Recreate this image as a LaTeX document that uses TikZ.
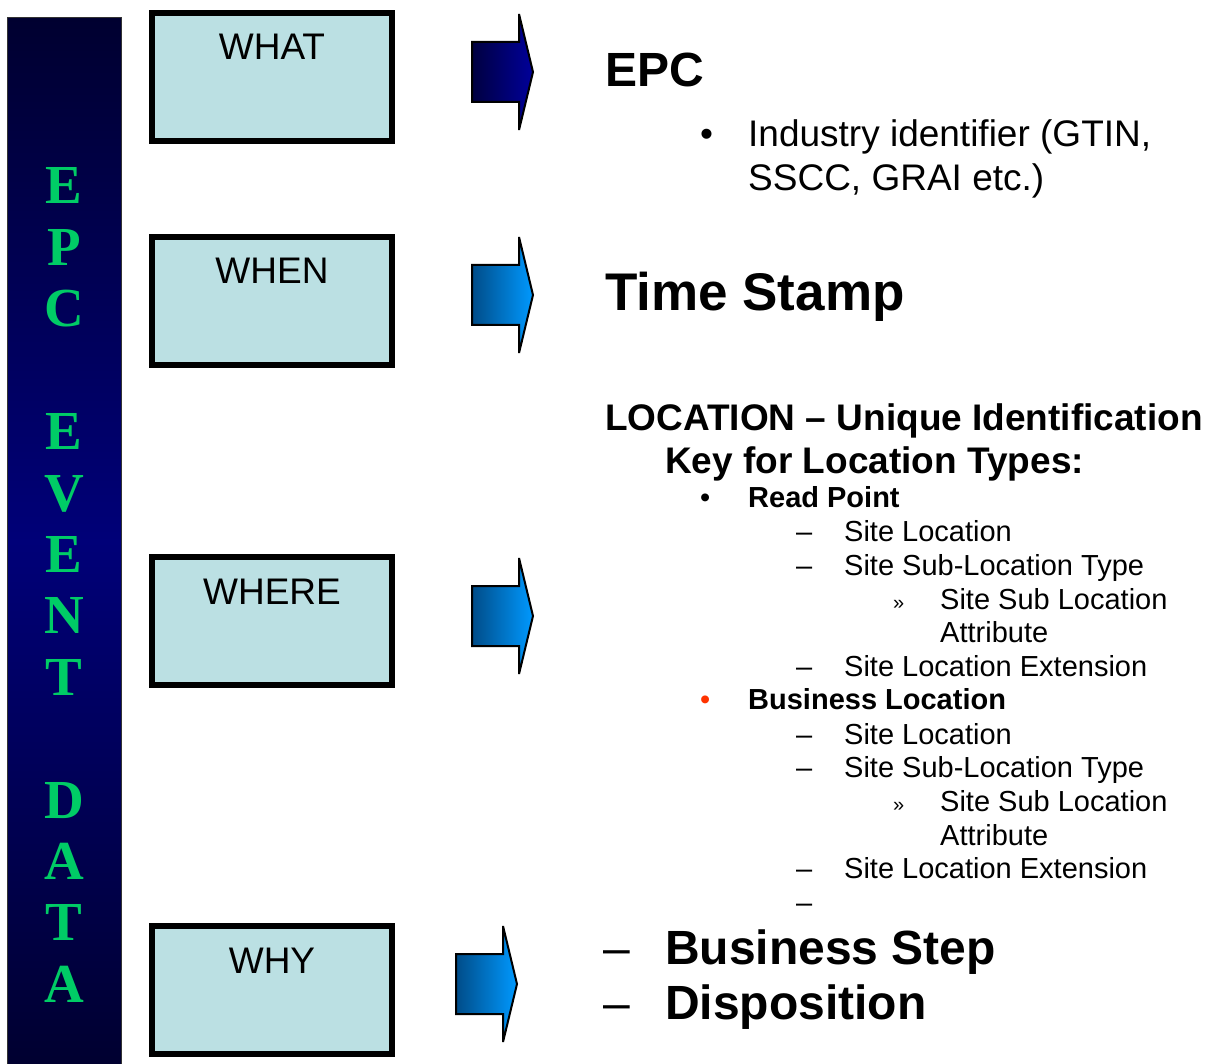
\documentclass[tikz,border=0pt]{standalone}
\usepackage{fontspec}
\setmainfont{Liberation Sans}
\newfontfamily\barfont{Liberation Serif}
\definecolor{boxfill}{HTML}{BBE0E3}
\definecolor{bargreen}{HTML}{00CC66}
\definecolor{bardark}{HTML}{000030}
\definecolor{barmid}{HTML}{000078}
\definecolor{navyL}{HTML}{000040}
\definecolor{navyR}{HTML}{00009A}
\definecolor{blueL}{HTML}{004C88}
\definecolor{blueR}{HTML}{0099FF}
\definecolor{bulletred}{HTML}{FF3300}
\newcommand\fs[1]{\fontsize{#1}{#1}\selectfont}
% block arrow: #1 = left x, #2 = centre y, #3 = shading style, #4 = tip name
\newcommand\blockarrow[4]{%
  \filldraw[arrowline,#3] (#1,{#2-30}) -- ({#1+47},{#2-30}) -- ({#1+47},{#2-58})
    -- ({#1+61},#2) -- ({#1+47},{#2+58}) -- ({#1+47},{#2+30}) -- (#1,{#2+30}) -- cycle;
  \coordinate (#4) at ({#1+61},#2);}
\begin{document}
\begin{tikzpicture}[x=1pt,y=-1pt,
  box/.style={draw=black,line width=6pt,fill=boxfill,minimum width=240pt,
    minimum height=128pt,inner sep=0pt},
  boxlabel/.style={anchor=base,inner sep=0pt,font=\fs{37}},
  barletter/.style={anchor=base,inner sep=0pt,text=bargreen,font=\barfont\bfseries\fs{55}},
  arrowline/.style={draw=black,line width=2pt,line join=miter,miter limit=3},
  navyshade/.style={left color=navyL,right color=navyR},
  blueshade/.style={left color=blueL,right color=blueR},
  txt/.style={anchor=base west,inner sep=0pt},
  head/.style={txt,font=\bfseries\fs{37}},
  item/.style={txt,font=\fs{29}},
  bolditem/.style={txt,font=\bfseries\fs{29}}]
\useasboundingbox (0,0) rectangle (1215,1064);

% vertical title bar: dark at both ends, brighter navy in the middle
\shade[top color=bardark,bottom color=barmid] (7,18) rectangle (121,542);
\shade[top color=barmid,bottom color=bardark] (7,541) rectangle (121,1066);
\draw[black!80,line width=1pt] (7,18) rectangle (121,1066);
\foreach \l/\i in {E/0,P/1,C/2,E/4,V/5,E/6,N/7,T/8,D/10,A/11,T/12,A/13}
  \node[barletter] (bar\i) at (64,{204+61.4*\i}) {\l};

% question boxes
\node[box] (what)  at (272,77)    {};
\node[box] (when)  at (272,301)   {};
\node[box] (where) at (272,621)   {};
\node[box] (why)   at (272,989.5) {};
\node[boxlabel] (whatL)  at (272,60)  {WHAT};
\node[boxlabel] (whenL)  at (272,284) {WHEN};
\node[boxlabel] (whereL) at (272,604) {WHERE};
\node[boxlabel] (whyL)   at (272,973) {WHY};

% block arrows
\blockarrow{472}{72}{navyshade}{tipwhat}
\blockarrow{472}{295}{blueshade}{tipwhen}
\blockarrow{472}{616}{blueshade}{tipwhere}
\blockarrow{456}{984}{blueshade}{tipwhy}

% WHAT
\node[txt,font=\bfseries\fs{48}] (epc) at (605,87) {EPC};
\node[txt,font=\fs{37}] (b1) at (700,147) {•};
\node[txt,font=\fs{37}] (epc1) at (748,147) {Industry identifier (GTIN,};
\node[txt,font=\fs{37}] (epc2) at (748,191) {SSCC, GRAI etc.)};

% WHEN
\node[txt,font=\bfseries\fs{53}] (ts) at (605,311) {Time Stamp};

% WHERE
\node[head] (loc1) at (605,430) {LOCATION – Unique Identification};
\node[head] (loc2) at (665,473) {Key for Location Types:};
\node[item] (b2) at (700,507) {•};
\node[bolditem] (rp) at (748,507) {Read Point};
\node[item] (d1) at (796,541) {–};
\node[item] (rp1) at (844,541) {Site Location};
\node[item] (d2) at (796,575) {–};
\node[item] (rp2) at (844,575) {Site Sub-Location Type};
\node[txt,font=\fs{20}] (g1) at (893,609) {»};
\node[item] (rp3) at (940,609) {Site Sub Location};
\node[item] (rp4) at (940,642) {Attribute};
\node[item] (d3) at (796,676) {–};
\node[item] (rp5) at (844,676) {Site Location Extension};
\node[item,text=bulletred] (b3) at (700,709) {•};
\node[bolditem] (bl) at (748,709) {Business Location};
\node[item] (d4) at (796,744) {–};
\node[item] (bl1) at (844,744) {Site Location};
\node[item] (d5) at (796,777) {–};
\node[item] (bl2) at (844,777) {Site Sub-Location Type};
\node[txt,font=\fs{20}] (g2) at (893,811) {»};
\node[item] (bl3) at (940,811) {Site Sub Location};
\node[item] (bl4) at (940,845) {Attribute};
\node[item] (d6) at (796,878) {–};
\node[item] (bl5) at (844,878) {Site Location Extension};
\node[item] (d7) at (796,912) {–};

% WHY
\node[txt,font=\fs{48}] (d8) at (603,964) {–};
\node[txt,font=\bfseries\fs{48}] (bs) at (665,964) {Business Step};
\node[txt,font=\fs{48}] (d9) at (603,1019) {–};
\node[txt,font=\bfseries\fs{48}] (dp) at (665,1019) {Disposition};
\end{tikzpicture}
\end{document}
